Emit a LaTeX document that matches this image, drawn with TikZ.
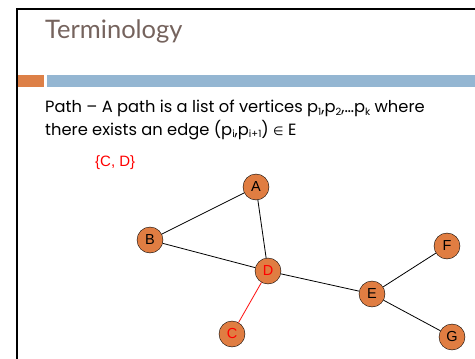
\documentclass[tikz,border=0pt]{standalone}
\usepackage{fontspec}
\setmainfont{Poppins}
\newfontfamily\titlefont{Lato}
\newfontfamily\labelfont{Liberation Sans}
\newfontfamily\symfont{DejaVu Sans}
\usepackage{xcolor}
\definecolor{slidetitle}{RGB}{117,99,93}
\definecolor{slideorange}{RGB}{221,128,71}
\definecolor{slideblue}{RGB}{148,182,210}
\definecolor{vertexfill}{RGB}{224,125,66}
\newcommand{\sub}[1]{\raisebox{-0.3ex}{\fontsize{10}{10}\selectfont #1}}

\tikzset{
  vertex/.style={circle, draw=black, fill=vertexfill, minimum size=26pt, inner sep=0pt, font=\labelfont\fontsize{14.5}{14.5}\selectfont},
  edge/.style={black, line width=0.8pt}
}

\begin{document}
\begin{tikzpicture}[x=1pt, y=-1pt]
  \useasboundingbox (0,0) rectangle (475,359);
  % slide frame and header bars
  \draw[line width=2.3pt] (17,359) -- (17,9) -- (475,9);
  \fill[slideorange] (18,75) rectangle (44,87);
  \fill[slideblue] (47,75) rectangle (475,87);
  \node[anchor=base west, inner sep=0pt, text=slidetitle, font=\titlefont\fontsize{25.5}{25.5}\selectfont] (title) at (45,38) {Terminology};
  % definition text
  \node[anchor=base west, inner sep=0pt, font=\fontsize{16.3}{16.3}\selectfont] (line1) at (45,112.5)
    {Path -- A path is a list of vertices p\sub{1},p\sub{2},\dots p\sub{k} where};
  \node[anchor=base west, inner sep=0pt, font=\fontsize{16.3}{16.3}\selectfont] (line2) at (45,135)
    {there exists an edge (p\sub{i},p\sub{i+1}) {\symfont\fontsize{12}{12}\selectfont ∈} E};
  \node[anchor=base west, inner sep=0pt, text=red, font=\labelfont\fontsize{15}{15}\selectfont] (path) at (95,166) {\{C, D\}};
  % the graph
  \node[vertex] (A) at (256,187) {A};
  \node[vertex] (B) at (150,240) {B};
  \node[vertex, text=red] (D) at (268,271) {D};
  \node[vertex, text=red] (C) at (232,334) {C};
  \node[vertex] (E) at (372,294) {E};
  \node[vertex] (F) at (447,246) {F};
  \node[vertex] (G) at (452,337) {G};
  \draw[edge] (A) -- (B);
  \draw[edge] (A) -- (D);
  \draw[edge] (B) -- (D);
  \draw[edge] (D) -- (E);
  \draw[edge] (E) -- (F);
  \draw[edge] (E) -- (G);
  \draw[red, line width=0.8pt] (D) -- (C);
\end{tikzpicture}
\end{document}
